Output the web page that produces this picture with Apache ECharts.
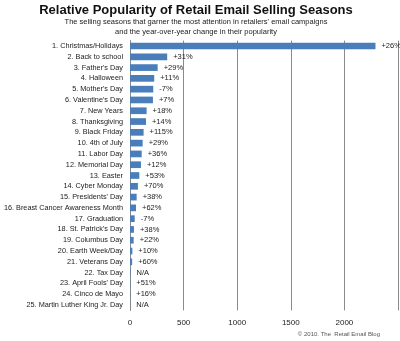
<!DOCTYPE html>
<html><head><meta charset="utf-8">
<script src="https://cdn.jsdelivr.net/npm/echarts@6/dist/echarts.min.js"></script>
<style>html,body{margin:0;padding:0;background:#fff}#c{width:400px;height:341px}</style>
</head><body><div id="c"></div>
<script>
const categories = ["1. Christmas/Holidays","2. Back to school","3. Father's Day","4. Halloween","5. Mother's Day","6. Valentine's Day","7. New Years","8. Thanksgiving","9. Black Friday","10. 4th of July","11. Labor Day","12. Memorial Day","13. Easter","14. Cyber Monday","15. Presidents' Day","16. Breast Cancer Awareness Month","17. Graduation","18. St. Patrick's Day","19. Columbus Day","20. Earth Week/Day","21. Veterans Day","22. Tax Day","23. April Fools' Day","24. Cinco de Mayo","25. Martin Luther King Jr. Day"];
const values = [2290,347,258,226,217,214,155,149,127,118,109,102,87,74,62,56,44,37,34,22,20,5,3,3,2];
const changes = ["+26%","+31%","+29%","+11%","-7%","+7%","+18%","+14%","+115%","+29%","+36%","+12%","+53%","+70%","+38%","+62%","-7%","+38%","+22%","+10%","+60%","N/A","+51%","+16%","N/A"];
const xTicks = [0,500,1000,1500,2000];

const chart = echarts.init(document.getElementById('c'), null, {renderer:'canvas'});
const FONT = '"Liberation Sans", Arial, sans-serif';
chart.setOption({
  animation:false,
  textStyle:{fontFamily:FONT},
  title:[
    {text:'Relative Popularity of Retail Email Selling Seasons', left:196, top:4, padding:0, textAlign:'center',
     textStyle:{fontSize:13, fontWeight:'bold', color:'#111', fontFamily:FONT}},
    {text:"The selling seasons that garner the most attention in retailers' email campaigns\nand the year-over-year change in their popularity", left:196, top:17, padding:0, textAlign:'center',
     textStyle:{fontSize:7.5, fontWeight:'normal', color:'#222', lineHeight:10, fontFamily:FONT}},
    {text:'© 2010. The  Retail Email Blog', right:20, top:331, padding:0,
     textStyle:{fontSize:6, fontWeight:'normal', color:'#555', fontFamily:FONT}}
  ],
  grid:{left:130, right:2, top:40.6, bottom:30.6, containLabel:false, outerBoundsMode:'none'},
  xAxis:{type:'value', min:0, max:2500, interval:500,
    axisLine:{show:false}, axisTick:{show:false},
    splitLine:{show:true, lineStyle:{color:'#8a8a8a', width:1}},
    axisLabel:{fontSize:8, color:'#222', margin:8,
      formatter:v=> xTicks.indexOf(v)>=0 ? String(v) : ''}},
  yAxis:{type:'category', data:categories, inverse:true,
    axisLine:{show:true, lineStyle:{color:'#8a8a8a'}}, axisTick:{show:false},
    axisLabel:{fontSize:7.3, color:'#222', margin:7, interval:0}},
  series:[{type:'bar', data:values, barCategoryGap:'38%',
    itemStyle:{color:'#4a7ebb'},
    label:{show:true, position:'right', distance:6, fontSize:7.5, color:'#222',
      formatter:p=>changes[p.dataIndex]}}]
});
</script></body></html>
